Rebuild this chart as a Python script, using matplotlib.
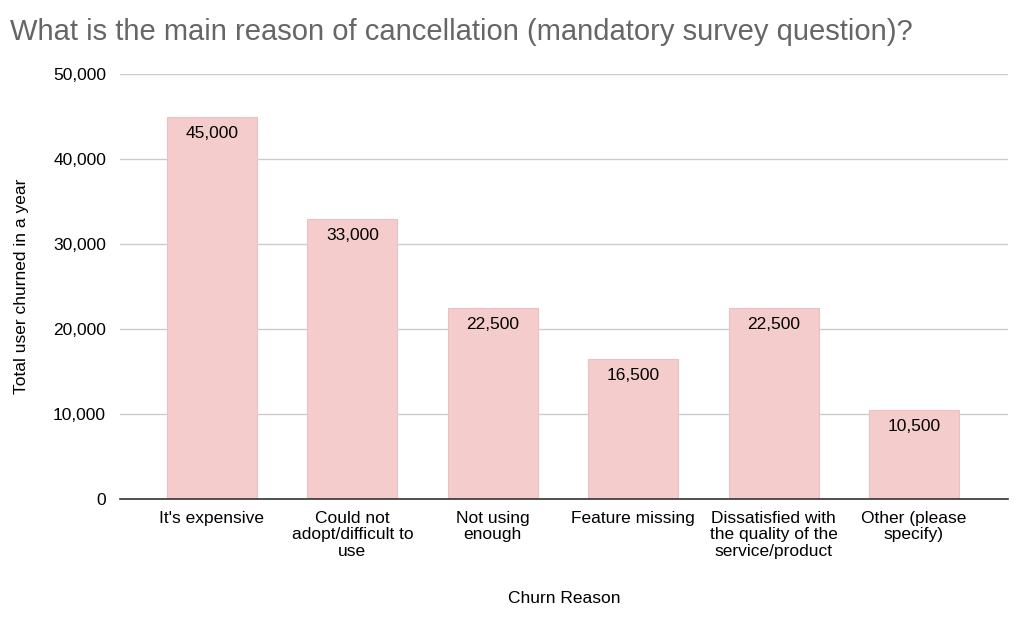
import matplotlib.pyplot as plt
from matplotlib.ticker import FuncFormatter

reasons = ["It's expensive", "Could not\nadopt/difficult to\nuse", "Not using\nenough",
           "Feature missing", "Dissatisfied with\nthe quality of the\nservice/product",
           "Other (please\nspecify)"]
churned = [45000, 33000, 22500, 16500, 22500, 10500]

plt.rcParams['font.family'] = ['Liberation Sans', 'DejaVu Sans']

fig = plt.figure(figsize=(10.24, 6.23), dpi=100)
ax = fig.add_axes([120 / 1024, 1 - 499 / 623, 888 / 1024, 425 / 623])

x = list(range(len(reasons)))
bars = ax.bar(x, churned, width=0.641, color='#f4cccc', edgecolor='#ecc0c0', linewidth=0.8, zorder=2)
for b, v in zip(bars, churned):
    ax.annotate(f'{v:,}', (b.get_x() + b.get_width() / 2, v), xytext=(0, -6.5),
                textcoords='offset points', ha='center', va='top', fontsize=12.5, color='black', zorder=3)

ax.set_xlim(-0.655, 5.67)
ax.set_ylim(0, 50000)
ax.set_yticks(range(0, 50001, 10000))
ax.yaxis.set_major_formatter(FuncFormatter(lambda v, p: f'{int(v):,}'))
ax.set_xticks(x)
ax.set_xticklabels(reasons, fontsize=12.5, linespacing=1.12)
ax.tick_params(axis='y', labelsize=12.5, length=0, pad=10)
ax.tick_params(axis='x', length=0, pad=8.5)
ax.grid(axis='y', color='#cccccc', linewidth=1, zorder=0)
for s in ['top', 'right', 'left']:
    ax.spines[s].set_visible(False)
ax.spines['bottom'].set_color('#333333')
ax.spines['bottom'].set_linewidth(1.2)
ax.spines['bottom'].set_zorder(4)

ax.set_ylabel('Total user churned in a year', fontsize=12.5, labelpad=17)
ax.set_xlabel('Churn Reason', fontsize=12.5, labelpad=23)
fig.text(10 / 1024, 1 - 32 / 623, 'What is the main reason of cancellation (mandatory survey question)?',
         fontsize=21, color='#666666', ha='left', va='center')

fig.savefig('out.png', dpi=100)
